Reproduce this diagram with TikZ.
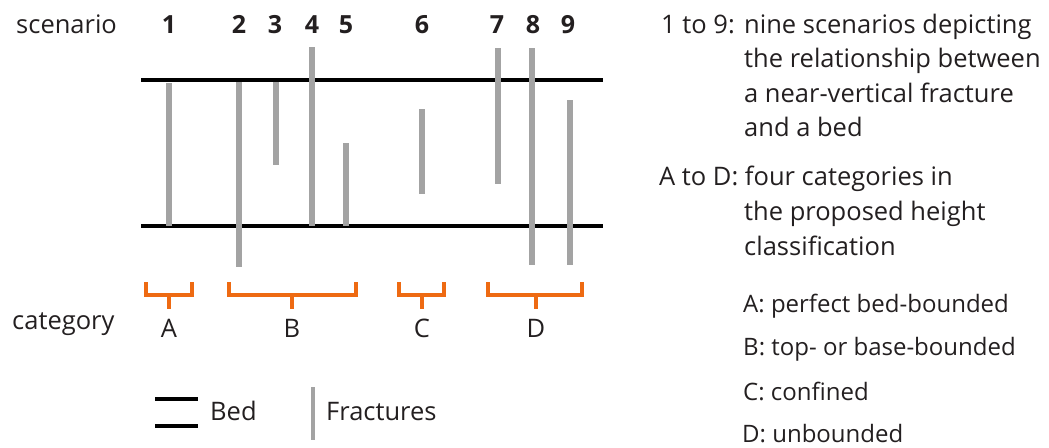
\documentclass[tikz,border=0pt]{standalone}
\usepackage{fontspec}
\setmainfont{Open Sans}
\definecolor{frac}{HTML}{A3A3A3}
\definecolor{brk}{HTML}{EE6A12}
\definecolor{txt}{HTML}{231F20}
\begin{document}
\begin{tikzpicture}[x=1pt,y=-1pt,
  lbl/.style={anchor=base west,inner sep=0pt,text=txt,font=\fontsize{25.5}{30}\selectfont},
  sub/.style={anchor=base west,inner sep=0pt,text=txt,font=\fontsize{24}{28}\selectfont},
  num/.style={anchor=base,inner sep=0pt,text=txt,font=\fontsize{25}{28}\selectfont\bfseries},
  cat/.style={anchor=base,inner sep=0pt,text=txt,font=\fontsize{25.5}{30}\selectfont},
  bed/.style={line width=4pt,black},
  fracture/.style={line width=6pt,frac},
  bracket/.style={line width=4pt,brk}]
\useasboundingbox (0,0) rectangle (1049,447);
% beds
\draw[bed] (141,80) -- (603,80);
\draw[bed] (141,226) -- (603,226);
% fractures
\draw[fracture] (169,83) -- (169,226);
\draw[fracture] (239,82) -- (239,267);
\draw[fracture] (276,82) -- (276,165);
\draw[fracture] (312,47) -- (312,226);
\draw[fracture] (346,143) -- (346,226);
\draw[fracture] (422,109) -- (422,194);
\draw[fracture] (498,48) -- (498,184);
\draw[fracture] (532,48) -- (532,265);
\draw[fracture] (570,100) -- (570,265);
% labels
\node[lbl] (scen) at (16,33) {scenario};
\node[num] (n1) at (169,33) {1};
\node[num] (n2) at (239,33) {2};
\node[num] (n3) at (275,33) {3};
\node[num] (n4) at (312,33) {4};
\node[num] (n5) at (346,33) {5};
\node[num] (n6) at (422,33) {6};
\node[num] (n7) at (497,33) {7};
\node[num] (n8) at (533,33) {8};
\node[num] (n9) at (568,33) {9};
% brackets
\draw[bracket] (146,282) -- (146,295) -- (192,295) -- (192,282);
\draw[bracket] (169,295) -- (169,309);
\draw[bracket] (229,282) -- (229,295) -- (356,295) -- (356,282);
\draw[bracket] (292,295) -- (292,309);
\draw[bracket] (399,282) -- (399,295) -- (444,295) -- (444,282);
\draw[bracket] (422,295) -- (422,309);
\draw[bracket] (488,282) -- (488,295) -- (582,295) -- (582,282);
\draw[bracket] (536,295) -- (536,309);
\node[lbl] (catl) at (12,329) {category};
\node[cat] (cA) at (169,337) {A};
\node[cat] (cB) at (292,337) {B};
\node[cat] (cC) at (422,337) {C};
\node[cat] (cD) at (536,337) {D};
% legend
\draw[bed] (155,399) -- (198,399);
\draw[bed] (155,426) -- (198,426);
\node[lbl] (lbed) at (210,420) {Bed};
\draw[line width=4pt,frac] (313,387) -- (313,440);
\node[lbl] (lfrac) at (326,420) {Fractures};
% right text
\node[lbl] (r1) at (661,33) {1 to 9:};
\node[lbl] (r1a) at (744,33) {nine scenarios depicting};
\node[lbl] (r1b) at (744,67.5) {the relationship between};
\node[lbl] (r1c) at (744,102) {a near-vertical fracture};
\node[lbl] (r1d) at (744,136.5) {and a bed};
\node[lbl] (r2) at (659,185) {A to D: four categories in};
\node[lbl] (r2b) at (744,220) {the proposed height};
\node[lbl] (r2c) at (744,255) {classification};
\node[sub] (sA) at (743,312) {A: perfect bed-bounded};
\node[sub] (sB) at (743,355) {B: top- or base-bounded};
\node[sub] (sC) at (743,400) {C: confined};
\node[sub] (sD) at (742,442) {D: unbounded};
\end{tikzpicture}
\end{document}
